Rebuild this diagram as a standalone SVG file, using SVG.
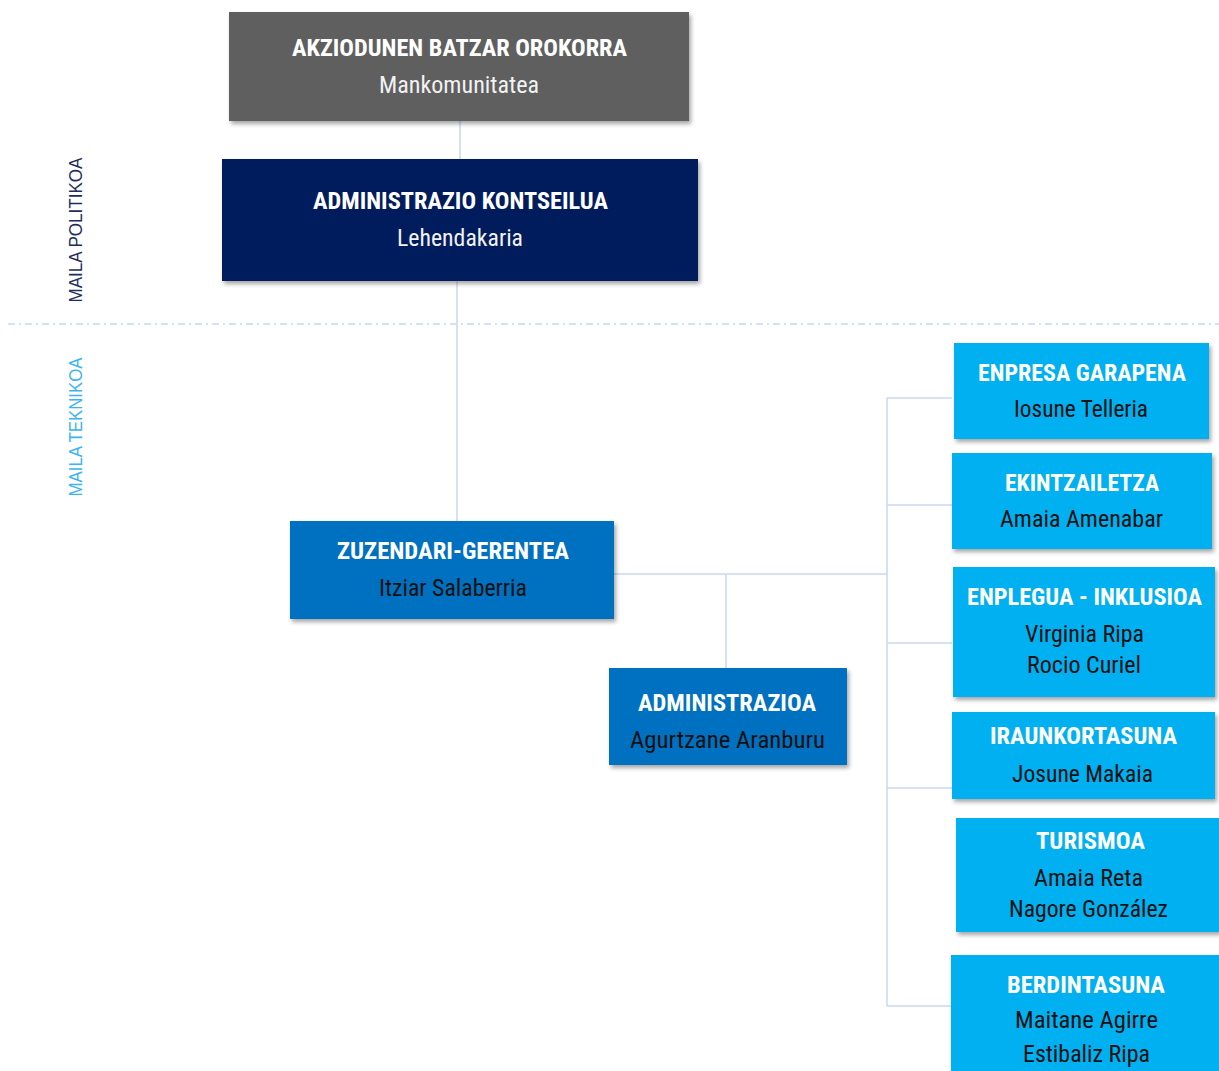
<svg xmlns="http://www.w3.org/2000/svg" width="1219" height="1071" viewBox="0 0 1219 1071">
<defs>
<filter id="sh" x="-5%" y="-10%" width="115%" height="130%">
<feDropShadow dx="2" dy="3" stdDeviation="2" flood-color="#000" flood-opacity="0.35"/>
</filter>
</defs>
<style>
.t{font-family:"Roboto Condensed","Liberation Sans Narrow",Roboto,"Liberation Sans",sans-serif;font-size:23.5px;font-weight:bold;fill:#fff;text-anchor:middle}
.s{font-family:"Roboto Condensed","Liberation Sans Narrow",Roboto,"Liberation Sans",sans-serif;font-size:23.5px;fill:#111;text-anchor:middle}
.sw{fill:#f2f2f2}
.c{stroke:#c9d9f0;stroke-width:1.5;fill:none}
.lbl{font-family:"Liberation Sans",Arial,sans-serif;font-size:18px;text-anchor:middle}
.gray{fill:#5e5e5e}
.navy{fill:#001f5b}
.blue{fill:#0070c0}
.lt{fill:#00b0f0}
</style>
<rect width="1219" height="1071" fill="#fff"/>
<line x1="8" y1="324" x2="1219" y2="324" stroke="#c5d9f0" stroke-width="1.5" stroke-dasharray="7 4 2 4"/>
<text class="lbl" fill="#1f2d5c" transform="translate(82,230) rotate(-90)" textLength="145" lengthAdjust="spacingAndGlyphs">MAILA POLITIKOA</text>
<text class="lbl" fill="#3cb4f0" transform="translate(82,427) rotate(-90)" textLength="139" lengthAdjust="spacingAndGlyphs">MAILA TEKNIKOA</text>
<g id="connectors">
<line class="c" x1="460" y1="121" x2="460" y2="159" stroke="#9fb4d6"/>
<line class="c" x1="457" y1="281" x2="457" y2="521"/>
<line class="c" x1="614" y1="574" x2="887" y2="574"/>
<line class="c" x1="726" y1="574" x2="726" y2="668"/>
<line class="c" x1="887" y1="398" x2="887" y2="1006"/>
<line class="c" x1="887" y1="398" x2="952" y2="398"/>
<line class="c" x1="887" y1="505" x2="952" y2="505"/>
<line class="c" x1="887" y1="643" x2="952" y2="643"/>
<line class="c" x1="887" y1="788" x2="952" y2="788"/>
<line class="c" x1="887" y1="1006" x2="952" y2="1006"/>
</g>
<g id="batzar">
<rect class="gray" x="229" y="12" width="460" height="109" filter="url(#sh)"/>
<text class="t" x="459.5" y="56" textLength="335" lengthAdjust="spacingAndGlyphs">AKZIODUNEN BATZAR OROKORRA</text>
<text class="s sw" x="459" y="93" textLength="160" lengthAdjust="spacingAndGlyphs">Mankomunitatea</text>
</g>
<g id="kontseilua">
<rect class="navy" x="222" y="159" width="476" height="122" filter="url(#sh)"/>
<text class="t" x="460.5" y="209" textLength="295" lengthAdjust="spacingAndGlyphs">ADMINISTRAZIO KONTSEILUA</text>
<text class="s sw" x="460" y="246" textLength="126" lengthAdjust="spacingAndGlyphs">Lehendakaria</text>
</g>
<g id="zuzendari">
<rect class="blue" x="290" y="521" width="324" height="98" filter="url(#sh)"/>
<text class="t" x="453" y="559" textLength="232" lengthAdjust="spacingAndGlyphs">ZUZENDARI-GERENTEA</text>
<text class="s" x="453" y="596" textLength="148" lengthAdjust="spacingAndGlyphs">Itziar Salaberria</text>
</g>
<g id="administrazioa">
<rect class="blue" x="609" y="668" width="238" height="97" filter="url(#sh)"/>
<text class="t" x="727" y="711" textLength="178" lengthAdjust="spacingAndGlyphs">ADMINISTRAZIOA</text>
<text class="s" x="727.5" y="748" textLength="195" lengthAdjust="spacingAndGlyphs">Agurtzane Aranburu</text>
</g>
<g id="enpresa">
<rect class="lt" x="954" y="343" width="255" height="96" filter="url(#sh)"/>
<text class="t" x="1082" y="381" textLength="208" lengthAdjust="spacingAndGlyphs">ENPRESA GARAPENA</text>
<text class="s" x="1081" y="417" textLength="134" lengthAdjust="spacingAndGlyphs">Iosune Telleria</text>
</g>
<g id="ekintzailetza">
<rect class="lt" x="952" y="453" width="260" height="96" filter="url(#sh)"/>
<text class="t" x="1082" y="491" textLength="154" lengthAdjust="spacingAndGlyphs">EKINTZAILETZA</text>
<text class="s" x="1081.5" y="527" textLength="163" lengthAdjust="spacingAndGlyphs">Amaia Amenabar</text>
</g>
<g id="enplegua">
<rect class="lt" x="953" y="567" width="262" height="130" filter="url(#sh)"/>
<text class="t" x="1084.5" y="605" textLength="235" lengthAdjust="spacingAndGlyphs">ENPLEGUA - INKLUSIOA</text>
<text class="s" x="1084.5" y="642" textLength="119" lengthAdjust="spacingAndGlyphs">Virginia Ripa</text>
<text class="s" x="1084" y="673" textLength="114" lengthAdjust="spacingAndGlyphs">Rocio Curiel</text>
</g>
<g id="iraunkortasuna">
<rect class="lt" x="952" y="712" width="263" height="87" filter="url(#sh)"/>
<text class="t" x="1083.5" y="744" textLength="187" lengthAdjust="spacingAndGlyphs">IRAUNKORTASUNA</text>
<text class="s" x="1082.5" y="782" textLength="141" lengthAdjust="spacingAndGlyphs">Josune Makaia</text>
</g>
<g id="turismoa">
<rect class="lt" x="956" y="818" width="263" height="114" filter="url(#sh)"/>
<text class="t" x="1090.5" y="849" textLength="109" lengthAdjust="spacingAndGlyphs">TURISMOA</text>
<text class="s" x="1088.5" y="886" textLength="109" lengthAdjust="spacingAndGlyphs">Amaia Reta</text>
<text class="s" x="1088.5" y="917" textLength="159" lengthAdjust="spacingAndGlyphs">Nagore González</text>
</g>
<g id="berdintasuna">
<rect class="lt" x="951" y="955" width="268" height="120" filter="url(#sh)"/>
<text class="t" x="1086" y="993" textLength="158" lengthAdjust="spacingAndGlyphs">BERDINTASUNA</text>
<text class="s" x="1086.5" y="1028" textLength="143" lengthAdjust="spacingAndGlyphs">Maitane Agirre</text>
<text class="s" x="1086.5" y="1062" textLength="127" lengthAdjust="spacingAndGlyphs">Estibaliz Ripa</text>
</g>
</svg>
